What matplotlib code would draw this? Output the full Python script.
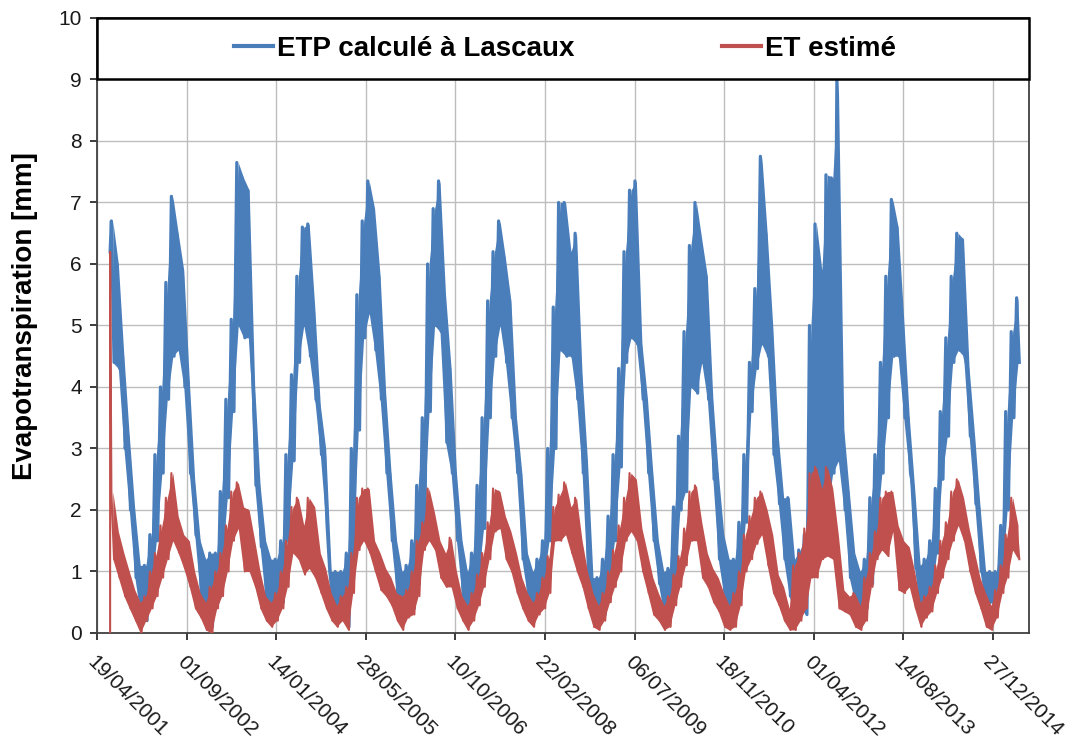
import numpy as np
import pandas as pd
import matplotlib
matplotlib.use('Agg')
import matplotlib.pyplot as plt
from matplotlib.patches import Rectangle

plt.rcParams['font.family'] = ['Liberation Sans', 'DejaVu Sans']

# daily series read as monthly max / min (Jul 2001 -> May 2015)
first_month = '2001-07-01'

etp_first = 6.2
etp_high = [
    6.7, 6.0, 4.5, 3.2, 2.0, 1.1,                                  # 2001
    1.1, 1.6, 2.9, 4.0, 5.7, 7.1, 6.5, 5.9, 4.1, 2.5, 1.5, 1.2,    # 2002
    1.3, 1.3, 2.3, 3.8, 5.1, 7.65, 7.4, 7.2, 4.0, 2.4, 1.5, 1.2,   # 2003
    1.2, 1.5, 2.9, 4.2, 5.8, 6.6, 6.65, 5.3, 3.7, 3.0, 1.0, 1.0,   # 2004
    1.0, 1.3, 3.0, 5.5, 6.7, 7.35, 6.9, 5.8, 3.9, 2.6, 1.5, 1.0,   # 2005
    1.1, 1.5, 2.4, 3.5, 6.0, 6.9, 7.35, 5.5, 4.3, 2.6, 1.5, 1.0,   # 2006
    1.3, 2.4, 3.5, 5.4, 6.2, 6.7, 6.1, 5.4, 3.5, 2.6, 1.3, 1.0,    # 2007
    1.2, 1.5, 3.0, 5.3, 7.0, 7.0, 6.2, 6.5, 4.2, 2.8, 0.9, 0.9,    # 2008
    1.2, 1.9, 2.9, 4.3, 6.2, 7.2, 7.35, 4.7, 3.8, 2.6, 1.5, 1.0,   # 2009
    1.05, 2.05, 3.2, 4.9, 6.3, 7.0, 6.4, 5.8, 3.8, 2.6, 1.6, 1.2,  # 2010
    1.2, 1.8, 2.9, 4.4, 5.6, 7.75, 6.5, 5.0, 3.2, 2.2, 2.2, 1.2,   # 2011
    1.35, 1.6, 5.0, 6.65, 5.9, 7.45, 7.4, 9.0, 3.3, 2.3, 1.3, 1.0, # 2012
    1.2, 2.2, 2.9, 4.4, 5.8, 7.05, 6.6, 5.1, 3.5, 2.35, 1.1, 1.2,  # 2013
    1.5, 2.35, 3.6, 4.8, 5.8, 6.5, 6.4, 4.3, 3.2, 2.05, 1.0, 1.0,  # 2014
    1.0, 1.75, 3.6, 4.9, 5.45,                                     # 2015
]
etp_low = [
    4.4, 4.3, 3.0, 2.0, 0.9, 0.3,
    0.2, 0.7, 1.5, 2.6, 3.8, 4.5, 4.6, 4.0, 2.6, 1.6, 0.6, 0.3,
    0.1, 0.5, 1.1, 2.2, 3.6, 5.0, 4.8, 4.8, 2.4, 1.4, 0.5, 0.2,
    0.3, 0.5, 1.5, 2.8, 4.4, 5.0, 4.5, 3.8, 2.9, 1.8, 0.6, 0.3,
    0.3, 0.1, 1.2, 3.3, 4.8, 5.2, 4.6, 3.8, 2.6, 1.5, 0.6, 0.2,
    0.3, 0.4, 0.8, 1.8, 3.6, 5.0, 4.9, 3.1, 2.6, 1.5, 0.6, 0.3,
    0.35, 0.9, 1.7, 3.5, 4.5, 5.0, 4.4, 3.5, 2.6, 1.2, 0.6, 0.3,
    0.4, 0.9, 1.5, 3.0, 4.6, 4.5, 4.5, 3.8, 2.6, 0.8, 0.4, 0.3,
    0.3, 0.9, 1.5, 2.7, 4.4, 4.8, 4.7, 3.8, 2.6, 1.5, 0.8, 0.3,
    0.35, 0.8, 2.0, 2.3, 4.0, 3.9, 4.4, 3.8, 2.5, 1.2, 0.6, 0.1,
    0.4, 0.9, 1.8, 3.6, 4.3, 4.7, 4.5, 2.9, 2.1, 1.2, 0.6, 0.3,
    0.4, 0.3, 1.3, 1.6, 1.5, 2.0, 2.6, 2.8, 2.0, 0.9, 0.5, 0.3,
    0.4, 0.8, 1.6, 2.6, 3.5, 4.5, 4.5, 3.5, 2.6, 1.05, 0.3, 0.4,
    0.6, 1.3, 2.5, 3.2, 4.4, 4.6, 4.5, 3.2, 2.1, 1.0, 0.4, 0.5,
    0.6, 0.9, 2.0, 3.5, 4.4,
]

et_first = [0.0, 6.2]
et_high = [
    2.3, 1.65, 1.3, 1.0, 0.7, 0.5,
    0.6, 1.0, 1.3, 1.75, 2.2, 2.6, 1.9, 1.6, 1.5, 1.0, 0.65, 0.5,
    0.75, 1.0, 1.3, 1.75, 2.3, 2.45, 2.05, 2.0, 1.5, 1.0, 0.6, 0.5,
    0.65, 1.0, 1.5, 2.05, 2.2, 1.75, 2.2, 2.05, 1.3, 1.05, 0.65, 0.45,
    0.6, 0.75, 1.3, 2.2, 2.35, 2.35, 1.5, 1.3, 1.05, 0.9, 0.65, 0.6,
    0.7, 1.0, 1.5, 1.8, 2.35, 1.95, 1.5, 1.3, 1.55, 1.0, 0.6, 0.45,
    0.65, 0.95, 1.3, 1.8, 2.35, 2.3, 1.9, 1.65, 1.3, 0.9, 0.65, 0.5,
    0.65, 0.9, 1.25, 2.05, 2.25, 2.45, 2.05, 2.2, 1.5, 1.0, 0.65, 0.45,
    0.65, 1.0, 1.35, 1.75, 2.2, 2.6, 2.5, 1.7, 1.3, 0.9, 0.65, 0.45,
    0.6, 0.95, 1.25, 1.7, 2.3, 2.4, 1.8, 1.3, 1.05, 0.9, 0.65, 0.45,
    0.65, 1.0, 1.6, 1.9, 2.2, 2.3, 2.0, 1.6, 0.95, 0.75, 0.4, 1.1,
    1.3, 1.7, 2.6, 2.7, 2.35, 2.7, 2.35, 1.6, 0.7, 0.6, 0.65, 0.45,
    0.9, 1.3, 1.65, 2.2, 2.3, 2.3, 1.75, 1.5, 1.4, 1.0, 0.5, 0.6,
    0.75, 1.1, 1.5, 1.8, 2.3, 2.5, 2.2, 1.7, 1.3, 0.9, 0.65, 0.45,
    0.7, 1.1, 1.6, 2.2, 1.75,
]
et_low = [
    1.2, 0.9, 0.6, 0.4, 0.2, 0.0,
    0.2, 0.4, 0.6, 0.9, 1.2, 1.5, 1.3, 1.05, 0.75, 0.4, 0.25, 0.05,
    0.0, 0.4, 0.6, 1.0, 1.5, 1.7, 1.0, 1.0, 0.75, 0.4, 0.2, 0.1,
    0.2, 0.4, 0.75, 1.3, 1.2, 0.95, 1.05, 0.9, 0.65, 0.4, 0.2, 0.1,
    0.2, 0.05, 0.65, 1.35, 1.5, 1.3, 1.0, 0.7, 0.6, 0.45, 0.2, 0.05,
    0.25, 0.3, 0.6, 1.35, 1.5, 1.35, 0.9, 0.75, 0.75, 0.4, 0.2, 0.05,
    0.2, 0.45, 0.75, 1.2, 1.65, 1.7, 1.2, 1.0, 0.65, 0.4, 0.2, 0.1,
    0.3, 0.4, 0.65, 1.5, 1.5, 1.6, 1.3, 1.0, 0.75, 0.4, 0.1, 0.05,
    0.2, 0.5, 0.75, 1.0, 1.5, 1.65, 1.5, 1.0, 0.65, 0.3, 0.2, 0.05,
    0.1, 0.45, 0.75, 1.1, 1.5, 1.5, 0.9, 0.75, 0.5, 0.35, 0.1, 0.05,
    0.1, 0.45, 1.0, 1.2, 1.45, 1.6, 1.1, 0.65, 0.45, 0.2, 0.05, 0.05,
    0.2, 0.4, 0.9, 0.9, 1.2, 1.25, 1.2, 0.4, 0.35, 0.3, 0.1, 0.05,
    0.2, 0.75, 1.2, 1.35, 1.25, 1.65, 0.7, 0.65, 0.75, 0.4, 0.1, 0.25,
    0.35, 0.65, 0.9, 1.2, 1.5, 1.75, 1.5, 1.0, 0.65, 0.4, 0.1, 0.05,
    0.25, 0.65, 0.9, 1.35, 1.2,
]

tick_labels = ['19/04/2001', '01/09/2002', '14/01/2004', '28/05/2005',
               '10/10/2006', '22/02/2008', '06/07/2009', '18/11/2010',
               '01/04/2012', '14/08/2013', '27/12/2014']
x_end = '16/07/2015'

BLUE = '#4a7ebb'
RED = '#c0504d'

months = pd.date_range(first_month, periods=len(etp_high), freq='MS')
mid = (months + pd.Timedelta(days=15)).values


def zigzag(first, high, low):
    # max then min inside each month
    t = np.empty(2 * len(high), dtype='datetime64[ns]')
    t[0::2] = (months + pd.Timedelta(days=7)).values
    t[1::2] = (months + pd.Timedelta(days=22)).values
    v = np.empty(2 * len(high))
    v[0::2] = high
    v[1::2] = low
    t0 = np.array([months[0].to_datetime64()] * len(first), dtype='datetime64[ns]')
    return np.concatenate([t0, t]), np.concatenate([first, v])


etp_t, etp_v = zigzag([etp_first], etp_high, etp_low)
et_t, et_v = zigzag(et_first, et_high, et_low)
ticks = pd.to_datetime(tick_labels, format='%d/%m/%Y')

fig = plt.figure(figsize=(10.77, 7.40), dpi=100)
fig.patch.set_facecolor('white')
ax = fig.add_axes([0.0901, 0.1446, 0.8653, 0.8311])

# the daily noise fills the band between monthly min and max
ax.fill_between(mid, etp_low, etp_high, color=BLUE, lw=0, zorder=2)
ax.plot(etp_t, etp_v, color=BLUE, lw=2.3, label='ETP calculé à Lascaux', zorder=2)
ax.fill_between(mid, et_low, et_high, color=RED, lw=0, zorder=3)
ax.plot(et_t, et_v, color=RED, lw=1.5, label='ET estimé', zorder=3)

ax.set_ylim(0, 10)
ax.set_yticks(range(0, 11))
ax.set_xlim(ticks[0], pd.to_datetime(x_end, format='%d/%m/%Y'))
ax.set_xticks(ticks)
ax.set_xticklabels(tick_labels, rotation=-45, ha='left', va='top',
                   rotation_mode='anchor')
ax.tick_params(axis='both', labelsize=15, colors='#1a1a1a', direction='out',
               length=5, width=1.2)
ax.tick_params(axis='y', pad=6)
ax.tick_params(axis='x', pad=9)

ax.set_axisbelow(True)
ax.grid(True, color='#bdbdbd', lw=1.0)
for s in ax.spines.values():
    s.set_color('#404040')
    s.set_linewidth(1.3)

ax.set_ylabel('Evapotranspiration [mm]', fontsize=20, fontweight='bold')
ax.yaxis.set_label_coords(-0.063, 0.516)

# legend box over the 9-10 band
ax.add_patch(Rectangle((0, 0.9), 1, 0.1, transform=ax.transAxes,
                       facecolor='white', edgecolor='black', lw=1.8,
                       zorder=4, clip_on=False))
leg = ax.legend(loc='center', bbox_to_anchor=(0.502, 0.95), ncol=2,
                frameon=False, prop={'weight': 'bold', 'size': 20},
                handlelength=1.4, handletextpad=0.15, columnspacing=5.3)
leg.set_zorder(5)
for h in leg.get_lines():
    h.set_linewidth(3)

fig.savefig('out.png', dpi=100)
